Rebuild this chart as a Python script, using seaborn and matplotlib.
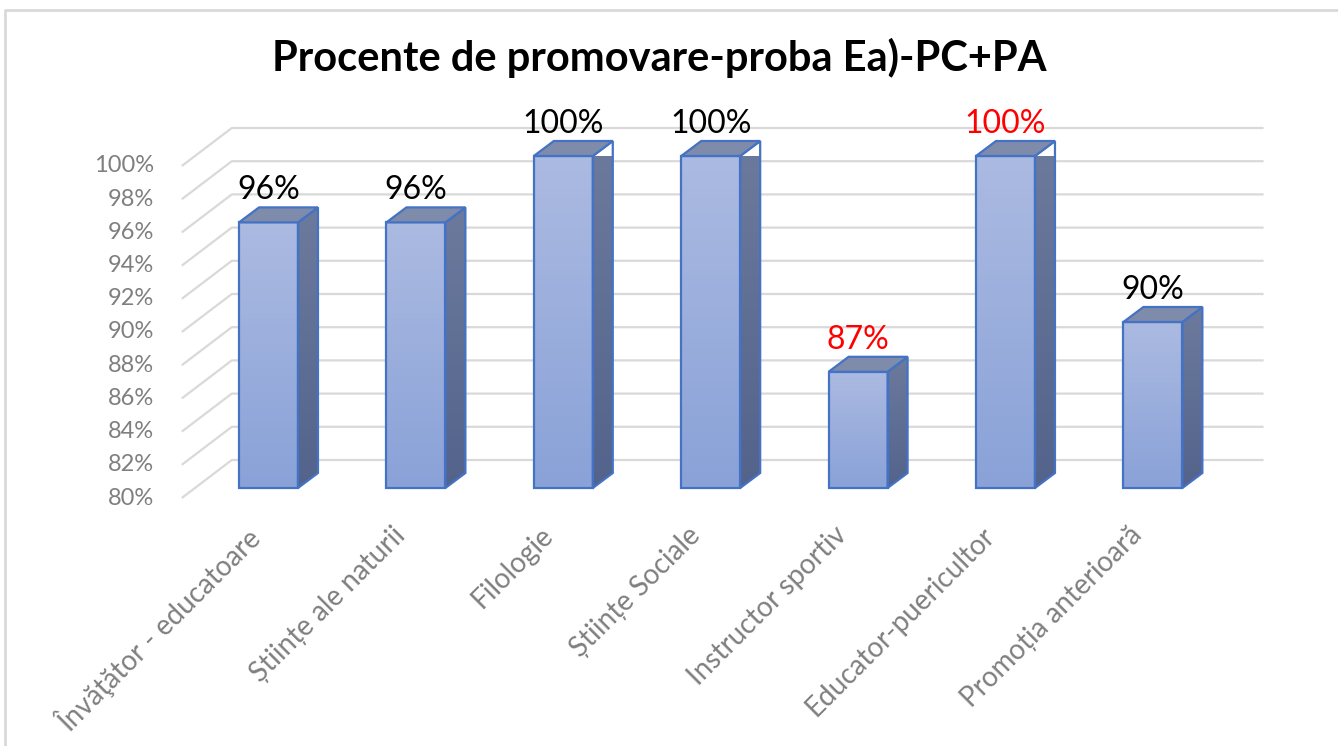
import numpy as np
import pandas as pd
import seaborn as sns
import matplotlib.pyplot as plt
from matplotlib.lines import Line2D
from matplotlib.patches import Polygon
from matplotlib.colors import LinearSegmentedColormap

# chart data
categories = ["Învăţător - educatoare", "Științe ale naturii", "Filologie",
              "Științe Sociale", "Instructor sportiv", "Educator-puericultor",
              "Promoția anterioară"]
values = [96, 96, 100, 100, 87, 100, 90]
label_colors = ["black", "black", "black", "black", "red", "red", "black"]
y_ticks = [80, 82, 84, 86, 88, 90, 92, 94, 96, 98, 100]
title = "Procente de promovare-proba Ea)-PC+PA"

W, H = 1338, 746
FONT = ["Lato", "DejaVu Sans"]

sns.set_theme(style="white")
plt.rcParams["font.family"] = FONT

fig = plt.figure(figsize=(W / 100, H / 100), dpi=100)
# bar plane in pixels: left 195, right 1227, y=80 at 488, y=100 at 156
L, R, Y0, Y1 = 194.8, 1226.6, 488, 156
ax = fig.add_axes([L / W, (H - Y0) / H, (R - L) / W, (Y0 - Y1) / H])

df = pd.DataFrame({"cat": categories, "val": values})
sns.barplot(data=df, x="cat", y="val", ax=ax, width=0.4, color="#9AAEDD",
            edgecolor="#4472C4", linewidth=1.6, zorder=5)
ax.set_xlim(-0.5, len(categories) - 0.5)
ax.set_ylim(80, 100)
ax.axis("off")

# pixel -> data scale
p0 = ax.transData.transform((0, 80))
p1 = ax.transData.transform((1, 82))
pxx = p1[0] - p0[0]
pxy = (p1[1] - p0[1]) / 2.0


def dx(px):
    return px / pxx


def dy(px):
    return px / pxy


# gridlines on the back wall with slanted left side
front = (dx(-13), dy(-10))
back = (dx(37), dy(28))
for t in y_ticks:
    xs = [-0.5 + front[0], -0.5 + back[0], len(categories) - 0.5 + back[0]]
    ys = [t + front[1], t + back[1], t + back[1]]
    ax.plot(xs, ys, color="#D9D9D9", lw=1.6, clip_on=False, zorder=1,
            solid_capstyle="butt")
    ax.text(-0.5 + front[0] - dx(28), t + front[1], f"{t}%", ha="right",
            va="center", fontsize=17, color="#7F7F7F")

front_cmap = LinearSegmentedColormap.from_list("f", ["#8AA2D8", "#ABBAE1"])
side_cmap = LinearSegmentedColormap.from_list("s", ["#53638B", "#6C7A9D"])
grad = np.linspace(0, 1, 64).reshape(-1, 1)
depth_x, depth_y = dx(20), dy(15)

for patch, v in zip(ax.patches, values):
    x0 = patch.get_x()
    x1 = x0 + patch.get_width()
    patch.set_y(80)
    patch.set_height(v - 80)
    patch.set_facecolor("none")
    patch.set_clip_on(False)
    patch.set_zorder(6)
    ax.imshow(grad, extent=[x0, x1, 80, v], origin="lower", aspect="auto",
              cmap=front_cmap, zorder=4)
    side = Polygon([(x1, 80), (x1, v), (x1 + depth_x, v + depth_y),
                    (x1 + depth_x, 80 + depth_y)], closed=True,
                   facecolor="none", edgecolor="#4472C4", lw=1.6,
                   zorder=6, clip_on=False)
    ax.add_patch(side)
    im = ax.imshow(grad, extent=[x1, x1 + depth_x, 80, v + depth_y],
                   origin="lower", aspect="auto", cmap=side_cmap, zorder=4)
    im.set_clip_path(side)
    top = Polygon([(x0, v), (x1, v), (x1 + depth_x, v + depth_y),
                   (x0 + depth_x, v + depth_y)], closed=True,
                  facecolor="#7F8BAA", edgecolor="#4472C4", lw=1.6,
                  zorder=6, clip_on=False)
    ax.add_patch(top)

ax.set_xlim(-0.5, len(categories) - 0.5)
ax.set_ylim(80, 100)

# value labels
for i, (v, c) in enumerate(zip(values, label_colors)):
    ax.text(i, v + dy(23), f"{v}%", ha="center", va="baseline",
            fontsize=23, color=c, zorder=7)

# category labels
for i, cat in enumerate(categories):
    ax.text(i - dx(24), 80 - dy(34), cat, rotation=45, ha="right", va="top",
            rotation_mode="anchor", fontsize=20, color="#7F7F7F")

fig.text(659 / W, (H - 71) / H, title, ha="center", va="baseline",
         fontsize=30, fontweight="bold", color="black")

# chart-area border (only left and top edges fall inside the image)
fig.add_artist(Line2D([4.5 / W, 4.5 / W, 1.0], [0.0, 1 - 9.5 / H, 1 - 9.5 / H],
                      transform=fig.transFigure, color="#D9D9D9", lw=2))

fig.savefig("out.png", dpi=100)
